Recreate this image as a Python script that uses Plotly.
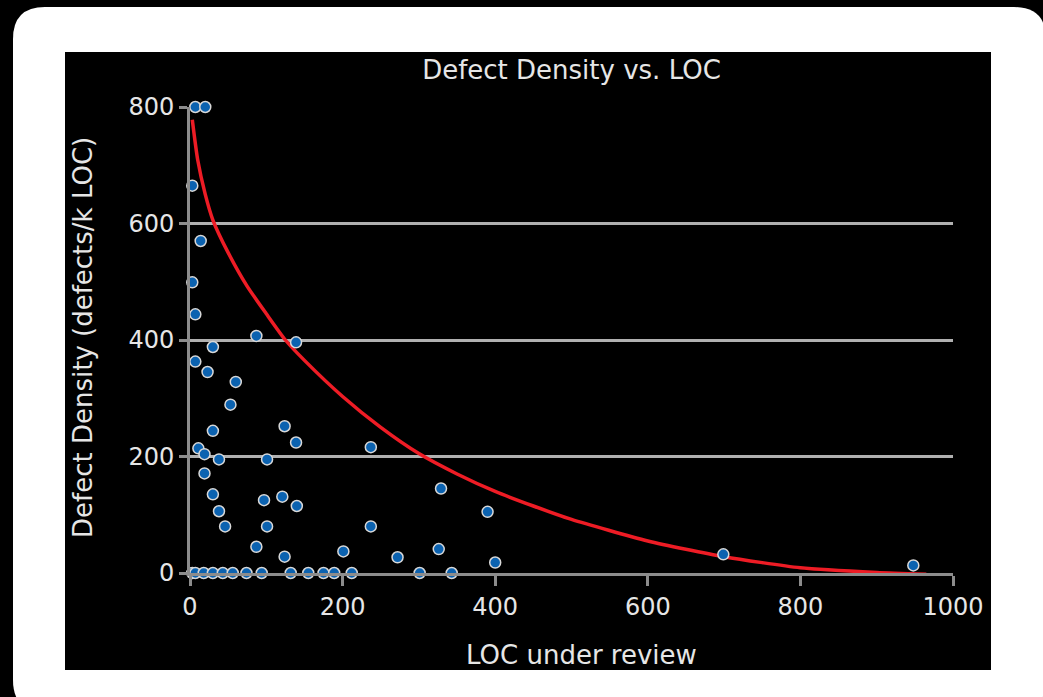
import plotly.graph_objects as go

# ---- data ----
loc = [7, 20, 3, 14, 3, 7,
       87, 139, 30, 7, 23, 60, 53, 124, 30, 139, 237, 11, 19, 38, 101, 19,
       329, 30, 97, 121, 140, 38, 390, 46, 101, 237, 87, 326, 201, 272, 124, 400,
       699, 948,
       3, 7, 18, 30, 43, 56, 74, 94, 132, 155, 175, 189, 212, 301, 343]
density = [800, 800, 665, 570, 499, 444,
           407, 396, 388, 363, 345, 328, 289, 252, 244, 224, 216, 214, 204, 195, 195, 171,
           145, 135, 125, 131, 115, 106, 105, 80, 80, 80, 45, 41, 37, 27, 28, 18,
           32, 13,
           0, 0, 0, 0, 0, 0, 0, 0, 0, 0, 0, 0, 0, 0, 0]

fit_x = [3, 10, 20, 30, 50, 75, 100, 125, 150, 200, 250, 300, 350, 400, 450, 500,
         600, 700, 800, 900, 965]
fit_y = [778, 710, 650, 606, 550, 492, 445, 400, 365, 303, 250, 205, 170, 140, 115, 92,
         55, 28, 9, 1, -2]

x_ticks = [0, 200, 400, 600, 800, 1000]
y_ticks = [0, 200, 400, 600, 800]

title_text = "Defect Density vs. LOC"
x_title = "LOC under review"
y_title = "Defect Density (defects/k LOC)"

# ---- geometry ----
W, H = 1043, 697
L, R, T, B = 190, 90, 107, 124
PW, PH = W - L - R, H - T - B


def px(x):
    return (x - L) / PW


def py(y):
    return (H - B - y) / PH


FONT = "DejaVu Sans, Verdana, sans-serif"
TXT = "#e6e6e6"

fig = go.Figure()
fig.add_trace(go.Scatter(
    x=fit_x, y=fit_y, mode="lines",
    line=dict(color="#ee1c25", width=3.5, shape="spline", smoothing=0.6),
    hoverinfo="skip", showlegend=False, cliponaxis=False))
fig.add_trace(go.Scatter(
    x=loc, y=density, mode="markers",
    marker=dict(symbol="circle", size=11, color="#0b62b0",
                line=dict(color="#d8d8d8", width=1.5)),
    showlegend=False, cliponaxis=False))

# rounded white frame (corners rounded)
x0, y0, x1, y1, r = 13, 7, 1046, 712, 32
path = (f"M {px(x0+r)} {py(y0)} L {px(x1-r)} {py(y0)} "
        f"Q {px(x1)} {py(y0)} {px(x1)} {py(y0+r)} "
        f"L {px(x1)} {py(y1-r)} Q {px(x1)} {py(y1)} {px(x1-r)} {py(y1)} "
        f"L {px(x0+r)} {py(y1)} Q {px(x0)} {py(y1)} {px(x0)} {py(y1-r)} "
        f"L {px(x0)} {py(y0+r)} Q {px(x0)} {py(y0)} {px(x0+r)} {py(y0)} Z")
shapes = [
    dict(type="path", path=path, xref="paper", yref="paper",
         fillcolor="white", line=dict(width=0), layer="below"),
    dict(type="rect", xref="paper", yref="paper",
         x0=px(65), x1=px(991), y0=py(52), y1=py(670),
         fillcolor="black", line=dict(width=0), layer="below"),
]

annotations = [
    dict(text=y_title, xref="paper", yref="paper", x=px(83), y=py(338),
         textangle=-90, showarrow=False, xanchor="center", yanchor="middle",
         font=dict(family=FONT, size=26, color=TXT)),
    dict(text=x_title, xref="paper", yref="paper", x=px(581), y=py(655),
         showarrow=False, xanchor="center", yanchor="middle",
         font=dict(family=FONT, size=26, color=TXT)),
]

fig.update_layout(
    width=W, height=H,
    margin=dict(l=L, r=R, t=T, b=B),
    paper_bgcolor="black", plot_bgcolor="black",
    title=dict(text=title_text, x=0.5, xref="paper", xanchor="center",
               y=1 - 70 / H, yref="container", yanchor="middle",
               font=dict(family=FONT, size=26, color=TXT)),
    shapes=shapes, annotations=annotations,
    xaxis=dict(range=[0, 1000], tickvals=x_ticks, ticktext=[str(v) for v in x_ticks],
               showgrid=False, zeroline=False,
               showline=True, linecolor="#8c8c8c", linewidth=3,
               ticks="outside", ticklen=10, tickwidth=3, tickcolor="#8c8c8c",
               tickfont=dict(family=FONT, size=24, color=TXT)),
    yaxis=dict(range=[0, 800], tickvals=y_ticks, ticktext=[str(v) for v in y_ticks],
               showgrid=True, gridcolor="#b0b0b0", gridwidth=3, zeroline=False,
               showline=True, linecolor="#8c8c8c", linewidth=3,
               ticks="outside", ticklen=8, tickwidth=3, tickcolor="#8c8c8c",
               tickfont=dict(family=FONT, size=24, color=TXT)),
)

fig.write_html(
    "out.html",
    config={"displayModeBar": False},
    post_script="document.body.style.margin='0';document.body.style.background='black';",
)
